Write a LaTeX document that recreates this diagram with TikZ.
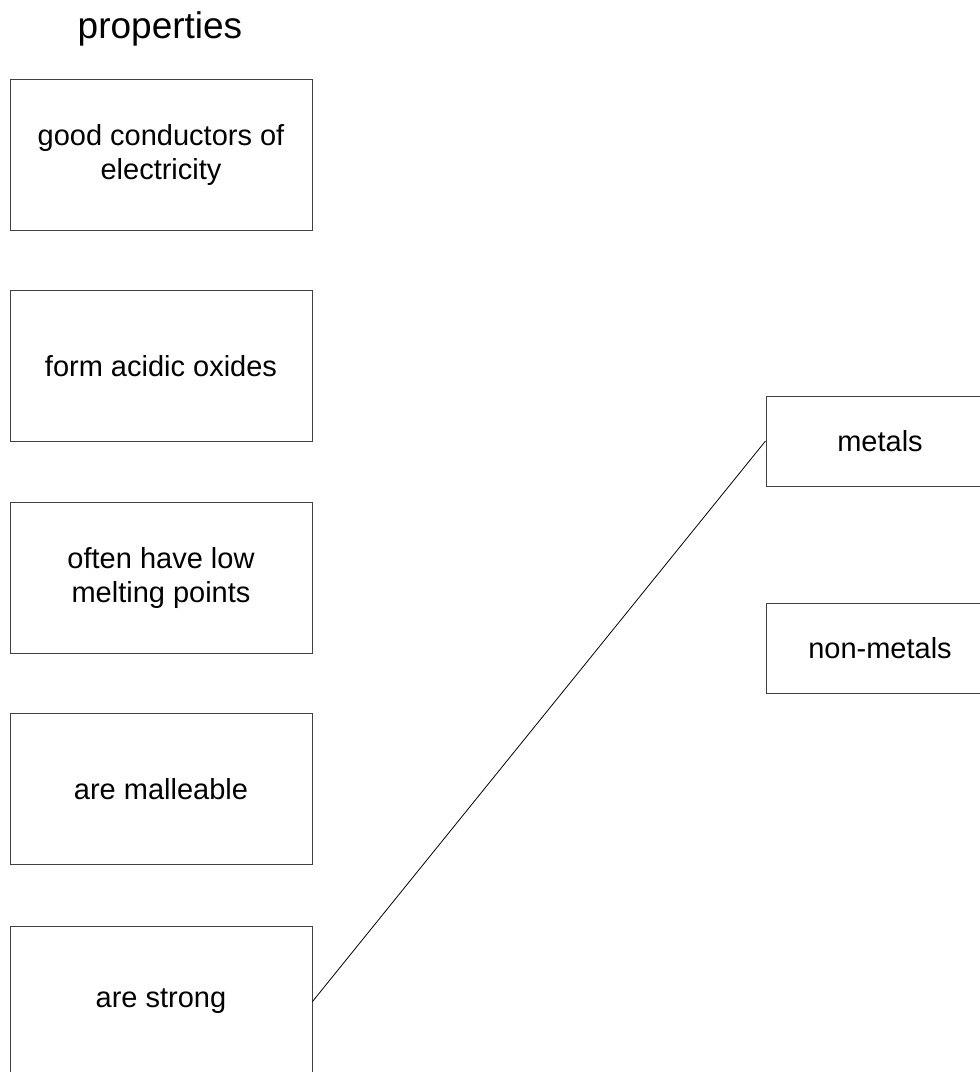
\documentclass[tikz,border=0pt]{standalone}
\usepackage{fontspec}
\setmainfont{Liberation Sans}
\begin{document}
\begin{tikzpicture}[x=1pt,y=-1pt,
  propbox/.style={draw=black!75,line width=1pt,minimum width=302pt,minimum height=151pt,inner sep=0pt,align=center,font=\fontsize{29}{34}\selectfont},
  catbox/.style={draw=black!75,line width=1pt,minimum width=228pt,minimum height=90pt,inner sep=0pt,align=center,font=\fontsize{29}{34}\selectfont},
  link/.style={draw=black,line width=0.8pt}]
\useasboundingbox (0,0) rectangle (980,1072);
\clip (0,0) rectangle (980,1072);
\node[anchor=base,font=\fontsize{37}{44}\selectfont] (title) at (160,38) {properties};
\node[propbox] (p1) at (161,154.5) {good conductors of\\electricity};
\node[propbox] (p2) at (161,366) {form acidic oxides};
\node[propbox] (p3) at (161,578) {often have low\\melting points};
\node[propbox] (p4) at (161,789) {are malleable};
\node[propbox] (p5) at (161,1001.5) {are strong};
\node[catbox] (m) at (880,441) {metals};
\node[catbox] (nm) at (880,648) {non-metals};
\draw[link] (p5.east) -- (m.west);
\end{tikzpicture}
\end{document}
